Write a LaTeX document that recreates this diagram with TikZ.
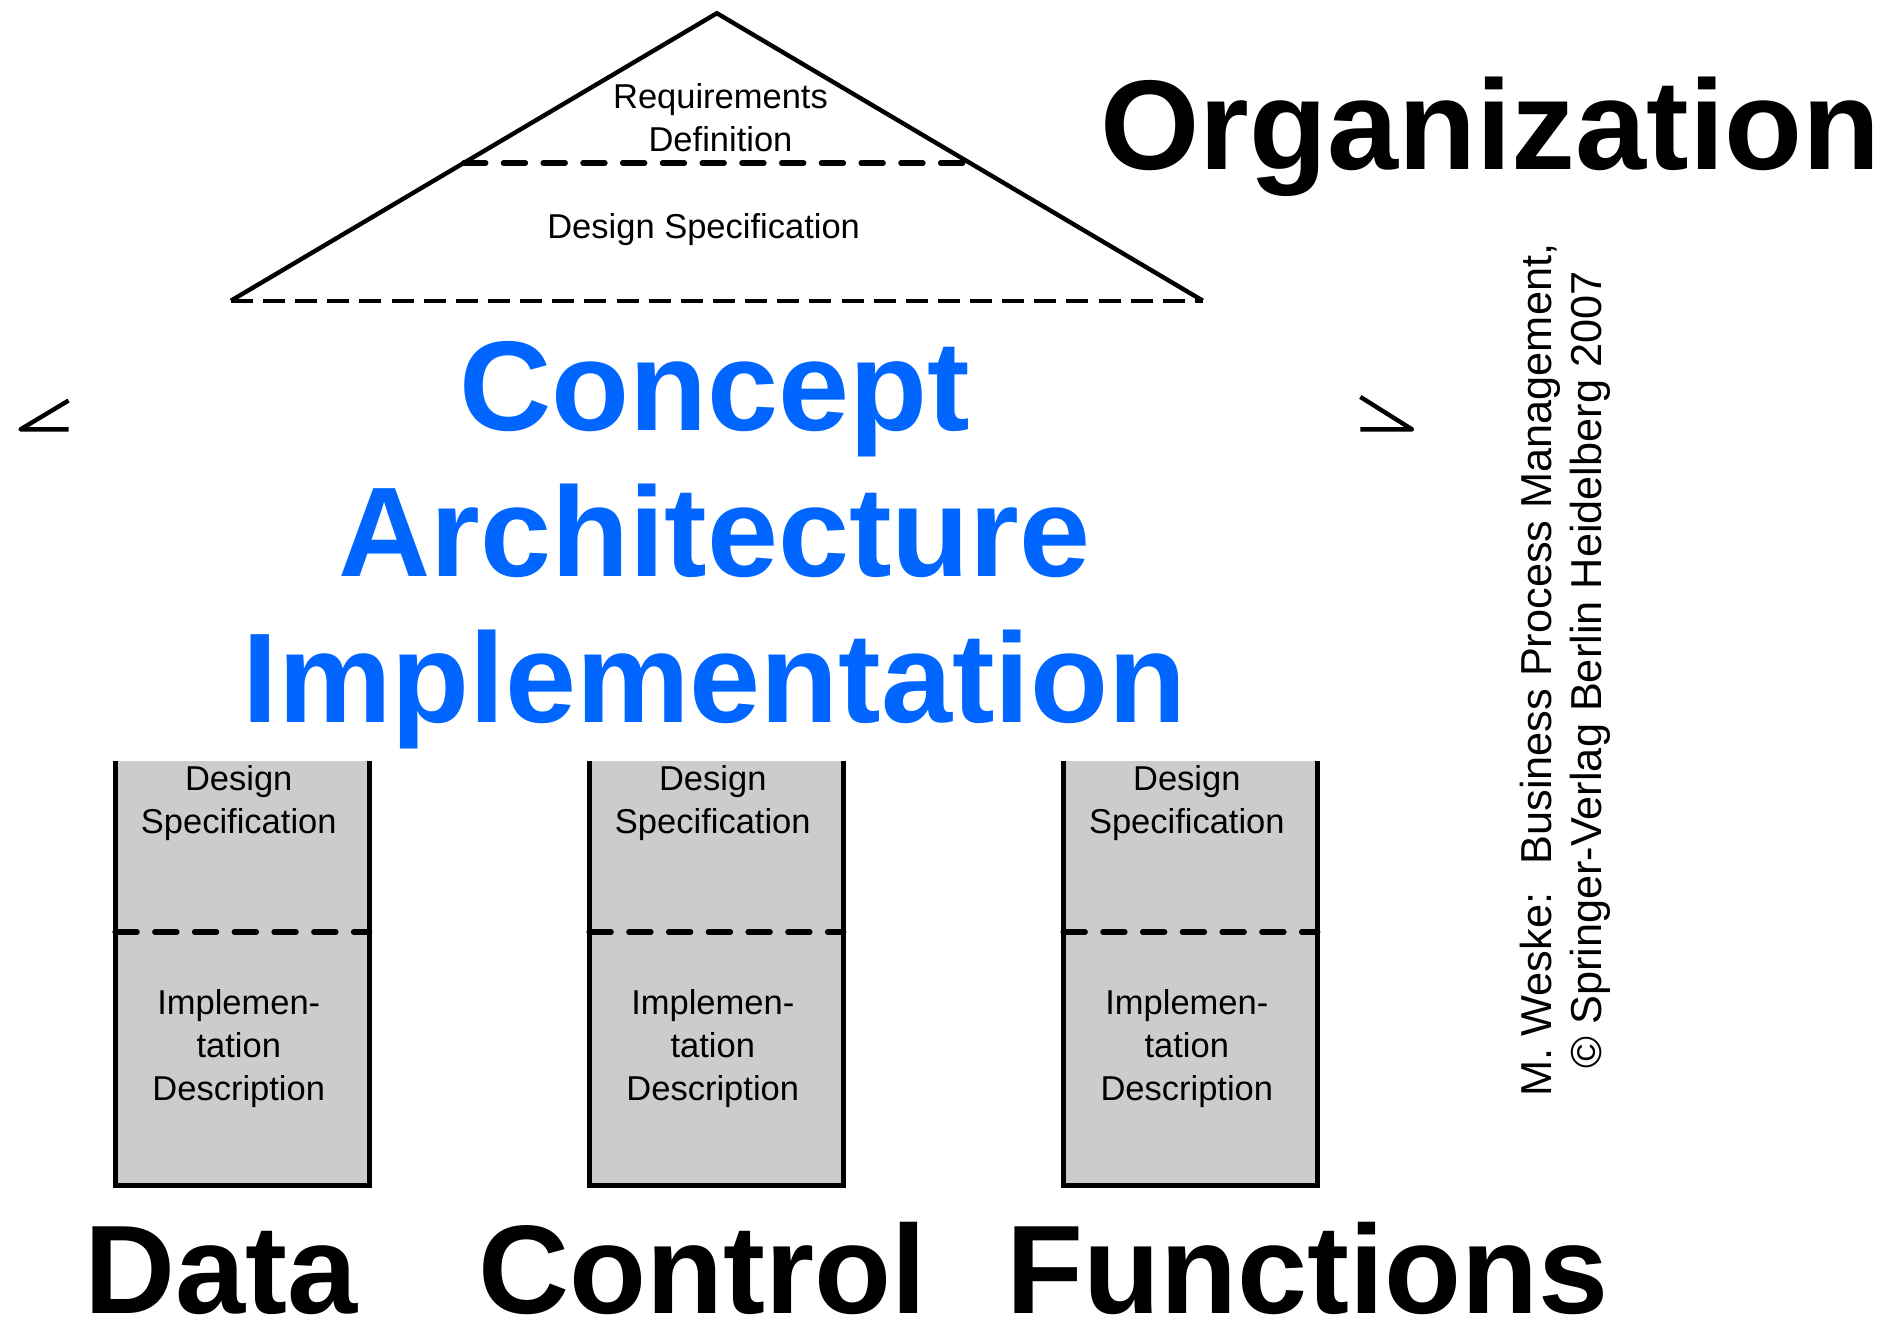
\documentclass[tikz,border=0pt]{standalone}
\usepackage{fontspec}
\setmainfont{Liberation Sans}
\usepackage{tikz}
\usetikzlibrary{calc,positioning}

\definecolor{conceptblue}{RGB}{0,102,255}
\definecolor{pillargray}{RGB}{204,204,204}

\begin{document}
\begin{tikzpicture}[%
x=0.025cm, y=-0.025cm,
node distance=9.85cm,
on grid,
roof/.style={line width=2.6pt},
eave/.style={line width=2.2pt, dash pattern=on 13pt off 6pt},
sep/.style={line width=3.2pt, dash pattern=on 13pt off 10.5pt, line cap=round},
wall/.style={line width=3pt},
pillar/.style={fill=pillargray, minimum width=5.275cm, minimum height=8.8cm, inner sep=0pt},
huge label/.style={font=\fontsize{75.5}{86}\selectfont\bfseries, inner sep=0pt, anchor=base},
small label/.style={font=\fontsize{20.4}{25.6}\selectfont, align=center, inner sep=0pt}
]
\useasboundingbox (0,0) rectangle (1568,1098);

% roof
\coordinate (apex) at (596,11);
\coordinate (eaveL) at (192,250);
\coordinate (eaveR) at (1000,250);
\draw[roof] (eaveL) -- (apex) -- (eaveR);
\draw[eave] (eaveL) -- (eaveR);
\draw[sep] ($(eaveL)!0.479!(apex)$) -- ($(eaveR)!0.479!(apex)$);
\node[small label] (req) at (599,98) {Requirements\\Definition};
\node[small label, anchor=base] (roofspec) at (585,198) {Design Specification};

% side marks
\draw[roof, line join=round] (57,333) -- (17,357) -- (57,357);
\draw[roof, line join=round] (1131,330) -- (1174,357) -- (1131,357);

\node[huge label] (org) at (1239,141) {Organization};

\node[huge label, text=conceptblue] (concept) at (594,357.5) {Concept};
\node[huge label, text=conceptblue] (arch) at (594,479) {Architecture};
\node[huge label, text=conceptblue] (impl) at (594,601) {Implementation};

% pillars
\node[pillar] (data) at (201.5,809) {};
\node[pillar, right=of data] (control) {};
\node[pillar, right=of control] (functions) {};

\foreach \p in {data,control,functions}{
  \draw[wall] (\p.north west) -- (\p.south west) -- (\p.south east) -- (\p.north east);
  \draw[sep] ([yshift=0.85cm]\p.west) -- ([yshift=0.85cm]\p.east);
  \node[small label] at ($(\p.north)+(-3,35)$) {Design\\Specification};
  \node[small label] at ($(\p.north)+(-3,239)$) {Implemen-\\tation\\Description};
}

\node[huge label, font=\fontsize{74.5}{86}\selectfont\bfseries] (datalbl) at (184,1092) {Data};
\node[huge label, font=\fontsize{74.5}{86}\selectfont\bfseries] (controllbl) at (584,1092) {Control};
\node[huge label, font=\fontsize{74.5}{86}\selectfont\bfseries] (functionslbl) at (1087,1092) {Functions};

\node[rotate=90, font=\fontsize{25.6}{29.5}\selectfont, align=center, inner sep=0pt] (copy) at (1301,557)
  {M. Weske:~ Business Process Management,\\© Springer-Verlag Berlin Heidelberg 2007};

\end{tikzpicture}
\end{document}
